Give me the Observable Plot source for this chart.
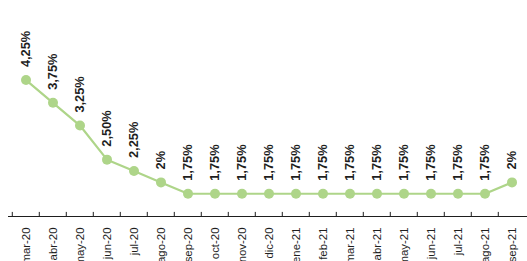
<!DOCTYPE html>
<html>
<head>
<meta charset="utf-8">
<script src="https://cdn.jsdelivr.net/npm/d3@7"></script>
<script src="https://cdn.jsdelivr.net/npm/@observablehq/plot@0.6"></script>
<style>
  html, body { margin: 0; padding: 0; background: #fff; }
  #chart svg { display: block; }
</style>
</head>
<body>
<div id="chart"></div>
<script>
const months = ["mar-20","abr-20","may-20","jun-20","jul-20","ago-20","sep-20","oct-20","nov-20","dic-20",
  "ene-21","feb-21","mar-21","abr-21","may-21","jun-21","jul-21","ago-21","sep-21"];
const rates = [4.25, 3.75, 3.25, 2.50, 2.25, 2, 1.75, 1.75, 1.75, 1.75, 1.75, 1.75, 1.75, 1.75, 1.75, 1.75, 1.75, 1.75, 2];
const rateLabels = ["4,25%","3,75%","3,25%","2,50%","2,25%","2%","1,75%","1,75%","1,75%","1,75%","1,75%","1,75%","1,75%","1,75%","1,75%","1,75%","1,75%","1,75%","2%"];

const data = months.map((m, i) => ({month: m, rate: rates[i], label: rateLabels[i]}));

const W = 527, H = 261;
const mL = 8, mR = -2;
const yMin = 1.25, yMax = 6;
const band = (W - mL - mR) / months.length;
const green = "#aed589";
const ink = "#1e1e1e";

const chart = Plot.plot({
  width: W,
  height: H,
  marginLeft: mL,
  marginRight: mR,
  marginTop: 0,
  marginBottom: 45,
  style: {background: "#fff", fontFamily: "'Liberation Sans', Arial, sans-serif"},
  x: {type: "band", domain: months, padding: 0, axis: null},
  y: {domain: [yMin, yMax], axis: null},
  marks: [
    Plot.ruleY([yMin], {stroke: ink, strokeWidth: 1}),
    Plot.ruleX(months, {x: d => d, y1: yMin, y2: yMin + 0.09, dx: -band / 2, stroke: ink, strokeWidth: 1}),
    Plot.axisX({
      anchor: "bottom",
      tickSize: 0,
      tickPadding: 11,
      tickRotate: -90,
      fontSize: 11.4,
      color: ink,
      label: null
    }),
    Plot.line(data, {x: "month", y: "rate", stroke: green, strokeWidth: 2.2}),
    Plot.dot(data, {x: "month", y: "rate", r: 5, fill: green, stroke: "none"}),
    Plot.text(data, {
      x: "month", y: "rate", text: "label",
      rotate: -90, textAnchor: "start", lineAnchor: "middle",
      dy: -13, fontWeight: "bold", fontSize: 12.8, fill: ink
    })
  ]
});
document.getElementById("chart").appendChild(chart);
</script>
</body>
</html>
